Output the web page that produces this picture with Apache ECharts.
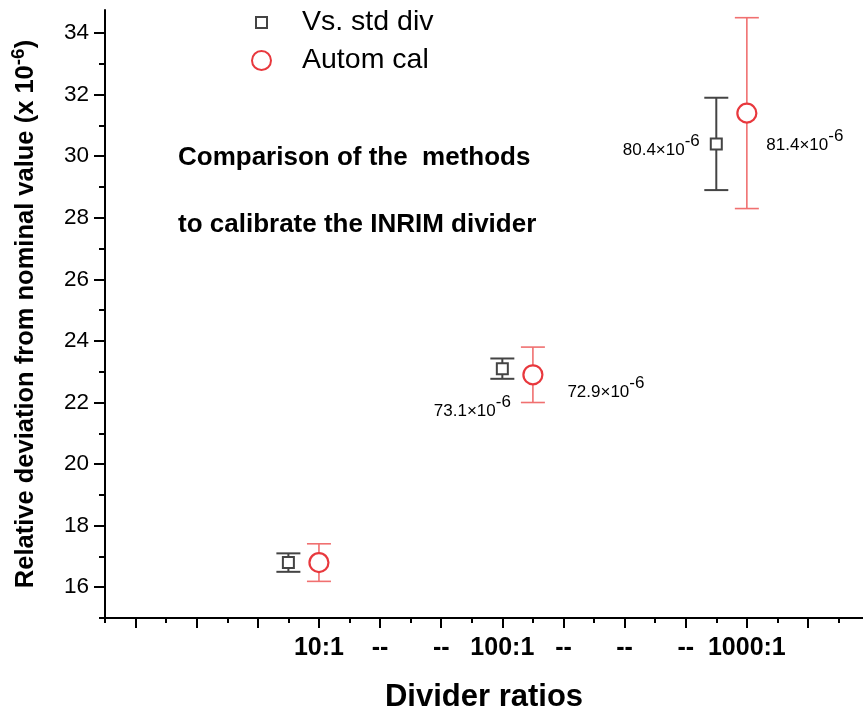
<!DOCTYPE html>
<html><head><meta charset="utf-8">
<script src="https://cdn.jsdelivr.net/npm/echarts@6/dist/echarts.min.js"></script>
<style>html,body{margin:0;padding:0;background:#fff}#c{width:863px;height:715px}</style>
</head><body><div id="c"></div>
<script>
// ---- data ----
const seriesNames = ['Vs. std div', 'Autom cal'];
const tickLabelPos = [4, 5, 6, 7, 8, 9, 10, 11];
const tickLabels = ['10:1', '--', '--', '100:1', '--', '--', '--', '1000:1'];
const xMajorTicks = [1, 2, 3, 4, 5, 6, 7, 8, 9, 10, 11, 12];
const xMinorTicks = [0.5, 1.5, 2.5, 3.5, 4.5, 5.5, 6.5, 7.5, 8.5, 9.5, 10.5, 11.5, 12.5];
const yMajorTicks = [16, 18, 20, 22, 24, 26, 28, 30, 32, 34];
const yMinorTicks = [15, 17, 19, 21, 23, 25, 27, 29, 31, 33];

const stdPos = [3.5, 7, 10.5];
const stdVal = [16.8, 23.1, 30.4];
const stdErr = [0.3, 0.33, 1.5];
const stdNotes = ['', '73.1', '80.4'];

const autoPos = [4, 7.5, 11];
const autoVal = [16.8, 22.9, 31.4];
const autoErr = [0.61, 0.9, 3.1];
const autoNotes = ['', '72.9', '81.4'];

// ---- styling ----
const FONT = "'Liberation Sans', Arial, sans-serif";
const GRAY = '#444444';
const RED = '#e8383d';
const RED_BAR = '#f07070';
const stdNoteOffsets = [[0, 0], [-30, 38], [-55, 2]];
const autoNoteOffsets = [[0, 0], [73, 13], [58, 28]];
const noteRich = {
  n: { fontSize: 17, color: '#000', verticalAlign: 'bottom', fontFamily: FONT },
  s: { fontSize: 17, color: '#000', verticalAlign: 'top', padding: [0, 0, 9, 0], fontFamily: FONT }
};

function errRender(color, width, capHalf) {
  return function (params, api) {
    const x = api.value(0), lo = api.value(1), hi = api.value(2);
    const a = api.coord([x, lo]), b = api.coord([x, hi]);
    const st = { stroke: color, lineWidth: width };
    return { type: 'group', children: [
      { type: 'line', shape: { x1: a[0], y1: a[1], x2: b[0], y2: b[1] }, style: st },
      { type: 'line', shape: { x1: a[0] - capHalf, y1: a[1], x2: a[0] + capHalf, y2: a[1] }, style: st },
      { type: 'line', shape: { x1: b[0] - capHalf, y1: b[1], x2: b[0] + capHalf, y2: b[1] }, style: st }
    ]};
  };
}

function pts(pos, val, notes, offs) {
  return pos.map((x, i) => ({
    value: [x, val[i]],
    label: notes[i] ? {
      show: true, position: 'inside', offset: offs[i],
      formatter: '{n|' + notes[i] + '×10}{s|-6}', rich: noteRich
    } : { show: false }
  }));
}

const chart = echarts.init(document.getElementById('c'), null, { renderer: 'canvas' });
const axisLineStyle = { color: '#000', width: 2 };
chart.setOption({
  animation: false,
  textStyle: { fontFamily: FONT },
  title: {
    text: 'Comparison of the  methods\n\nto calibrate the INRIM divider',
    left: 173, top: 136,
    textStyle: { fontSize: 26, fontWeight: 'bold', color: '#000', lineHeight: 33.5, fontFamily: FONT }
  },
  legend: [
    { data: [{ name: seriesNames[0], icon: 'rect', itemStyle: { color: '#fff', borderColor: GRAY, borderWidth: 2 } }],
      left: 255, top: 8, padding: 0, itemWidth: 11, itemHeight: 11,
      textStyle: { fontSize: 28.5, color: '#000', padding: [0, 0, 0, 30], fontFamily: FONT } },
    { data: [{ name: seriesNames[1], icon: 'circle', itemStyle: { color: '#fff', borderColor: RED, borderWidth: 2 } }],
      left: 251, top: 46, padding: 0, itemWidth: 19, itemHeight: 19,
      textStyle: { fontSize: 28.5, color: '#000', padding: [0, 0, 0, 26], fontFamily: FONT } }
  ],
  grid: { left: 105, right: 0, top: 10, bottom: 97, containLabel: false, outerBoundsMode: 'none' },
  xAxis: [
    { type: 'value', min: 0.5, max: 12.9,
      axisLine: { onZero: false, lineStyle: axisLineStyle },
      axisTick: { customValues: xMajorTicks, length: 10, lineStyle: { color: '#000', width: 2 } },
      axisLabel: { customValues: tickLabelPos, margin: 18,
        formatter: v => tickLabels[tickLabelPos.indexOf(Math.round(v))] || '',
        fontSize: 25, fontWeight: 'bold', color: '#000', fontFamily: FONT },
      splitLine: { show: false },
      name: 'Divider ratios', nameLocation: 'middle', nameGap: 64,
      nameTextStyle: { fontSize: 31, fontWeight: 'bold', color: '#000', fontFamily: FONT } },
    { type: 'value', min: 0.5, max: 12.9, position: 'bottom',
      axisLine: { show: false, onZero: false },
      axisTick: { customValues: xMinorTicks, length: 5, lineStyle: { color: '#000', width: 2 } },
      axisLabel: { show: false }, splitLine: { show: false } }
  ],
  yAxis: [
    { type: 'value', min: 15, max: 34.75,
      axisLine: { show: true, onZero: false, lineStyle: axisLineStyle },
      axisTick: { customValues: yMajorTicks, length: 11, lineStyle: { color: '#000', width: 2 } },
      axisLabel: { customValues: yMajorTicks, margin: 16, fontSize: 22.5, color: '#000', fontFamily: FONT },
      splitLine: { show: false },
      name: '{b|Relative deviation from nominal value (x 10}{s|-6}{b|)}',
      nameLocation: 'middle', nameGap: 66,
      nameTextStyle: { rich: {
        b: { fontSize: 25.5, fontWeight: 'bold', color: '#000', verticalAlign: 'bottom', fontFamily: FONT },
        s: { fontSize: 19, fontWeight: 'bold', color: '#000', verticalAlign: 'top', padding: [0, 0, 11, 0], fontFamily: FONT }
      } } },
    { type: 'value', min: 15, max: 34.75, position: 'left',
      axisLine: { show: false, onZero: false },
      axisTick: { customValues: yMinorTicks, length: 6, lineStyle: { color: '#000', width: 2 } },
      axisLabel: { show: false }, splitLine: { show: false } }
  ],
  series: [
    { type: 'custom', name: 'errStd', renderItem: errRender(GRAY, 2, 12), z: 1,
      encode: { x: 0, y: [1, 2] }, silent: true,
      data: stdPos.map((x, i) => [x, stdVal[i] - stdErr[i], stdVal[i] + stdErr[i]]) },
    { type: 'custom', name: 'errAuto', renderItem: errRender(RED_BAR, 1.6, 12), z: 1,
      encode: { x: 0, y: [1, 2] }, silent: true,
      data: autoPos.map((x, i) => [x, autoVal[i] - autoErr[i], autoVal[i] + autoErr[i]]) },
    { type: 'scatter', name: seriesNames[0], symbol: 'rect', symbolSize: 11, z: 3,
      itemStyle: { color: '#fff', borderColor: GRAY, borderWidth: 2, opacity: 1 },
      data: pts(stdPos, stdVal, stdNotes, stdNoteOffsets) },
    { type: 'scatter', name: seriesNames[1], symbol: 'circle', symbolSize: 19, z: 3,
      itemStyle: { color: '#fff', borderColor: RED, borderWidth: 2.2, opacity: 1 },
      data: pts(autoPos, autoVal, autoNotes, autoNoteOffsets) }
  ]
});
</script></body></html>
